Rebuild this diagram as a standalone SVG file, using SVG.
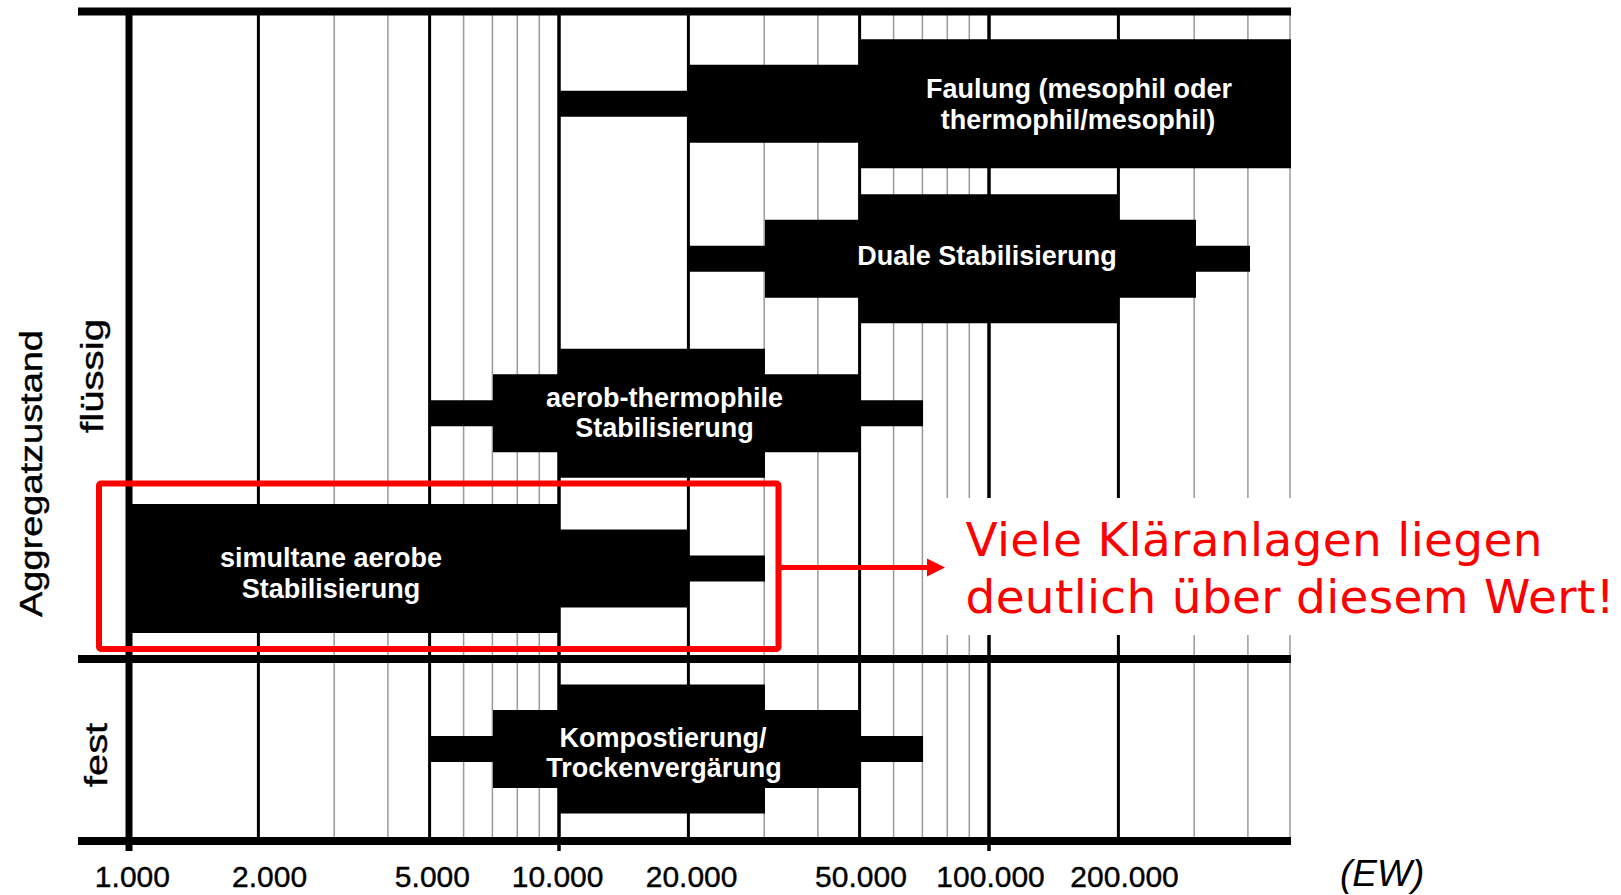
<svg xmlns="http://www.w3.org/2000/svg" width="1621" height="895" viewBox="0 0 1621 895">
<style>
.bk{stroke:#000;stroke-width:3;fill:none}
.bk2{stroke:#000;stroke-width:3.5;fill:none}
.gr{stroke:#9a9a9a;stroke-width:1.5;fill:none}
.bar{fill:#000}
.bl{font-family:"Liberation Sans",Arial,sans-serif;font-weight:bold;font-size:27px;fill:#fff;text-anchor:middle}
.ax{font-family:"Liberation Sans",Arial,sans-serif;font-size:30px;fill:#000;stroke:#000;stroke-width:0.4;text-anchor:middle}
.side{font-family:"Liberation Sans",Arial,sans-serif;font-size:31px;fill:#000;stroke:#000;stroke-width:0.4;text-anchor:middle}
.note{font-family:"DejaVu Sans",Verdana,sans-serif;font-size:47px;fill:#ff0000}
</style>
<rect width="1621" height="895" fill="#fff"/>
<g id="grid">
<line class="gr" x1="334.2" y1="15" x2="334.2" y2="838"/>
<line class="gr" x1="387.9" y1="15" x2="387.9" y2="838"/>
<line class="gr" x1="463.6" y1="15" x2="463.6" y2="838"/>
<line class="gr" x1="492.4" y1="15" x2="492.4" y2="838"/>
<line class="gr" x1="517.3" y1="15" x2="517.3" y2="838"/>
<line class="gr" x1="539.3" y1="15" x2="539.3" y2="838"/>
<line class="gr" x1="764.2" y1="15" x2="764.2" y2="838"/>
<line class="gr" x1="817.9" y1="15" x2="817.9" y2="838"/>
<line class="gr" x1="893.6" y1="15" x2="893.6" y2="838"/>
<line class="gr" x1="922.4" y1="15" x2="922.4" y2="838"/>
<line class="gr" x1="947.3" y1="15" x2="947.3" y2="838"/>
<line class="gr" x1="969.3" y1="15" x2="969.3" y2="838"/>
<line class="gr" x1="1194.2" y1="15" x2="1194.2" y2="838"/>
<line class="gr" x1="1247.9" y1="15" x2="1247.9" y2="838"/>
<line class="gr" x1="1290" y1="15" x2="1290" y2="838"/>
<line class="bk" x1="258.4" y1="15" x2="258.4" y2="838"/>
<line class="bk" x1="429.6" y1="15" x2="429.6" y2="838"/>
<line class="bk2" x1="559" y1="15" x2="559" y2="851"/>
<line class="bk" x1="688.4" y1="15" x2="688.4" y2="838"/>
<line class="bk" x1="859.6" y1="15" x2="859.6" y2="838"/>
<line class="bk2" x1="989" y1="15" x2="989" y2="851"/>
<line class="bk" x1="1118.4" y1="15" x2="1118.4" y2="838"/>
<line stroke="#000" stroke-width="7" x1="129" y1="10" x2="129" y2="851"/>
<rect x="78" y="7.5" width="1213" height="8" fill="#000"/>
<rect x="78" y="655" width="1213" height="8" fill="#000"/>
<rect x="78" y="837" width="1213" height="8" fill="#000"/>
</g>
<g id="faulung">
<path class="bar" d="M559,90.7H688V64.7H860V39.2H1291V168.2H860V142.7H688V116.7H559Z"/>
<text class="bl" x="1079" y="97.5">Faulung (mesophil oder</text>
<text class="bl" x="1078" y="128.5">thermophil/mesophil)</text>
</g>
<g id="duale">
<path class="bar" d="M688,245.7H765V219.7H860V194.2H1119V219.7H1196V245.7H1250V271.7H1196V297.7H1119V323.2H860V297.7H765V271.7H688Z"/>
<text class="bl" x="987" y="265">Duale Stabilisierung</text>
</g>
<g id="aerob">
<path class="bar" d="M430,400.3H493V374.3H559V348.8H765V374.3H860V400.3H923V426.3H860V452.3H765V477.8H559V452.3H493V426.3H430Z"/>
<text class="bl" x="664.5" y="406.7">aerob-thermophile</text>
<text class="bl" x="664.5" y="437.3">Stabilisierung</text>
</g>
<g id="simultan">
<path class="bar" d="M129,504H559V529.5H688V555.5H765V581.5H688V607.5H559V633H129Z"/>
<text class="bl" x="331" y="566.7">simultane aerobe</text>
<text class="bl" x="331" y="598.3">Stabilisierung</text>
</g>
<g id="kompost">
<path class="bar" d="M430,736H493V710H559V684.5H765V710H860V736H923V762H860V788H765V813.5H559V788H493V762H430Z"/>
<text class="bl" x="663" y="746.7">Kompostierung/</text>
<text class="bl" x="664" y="776.7">Trockenvergärung</text>
</g>
<g id="axis-labels">
<text class="ax" x="132.4" y="887">1.000</text>
<text class="ax" x="269.6" y="887">2.000</text>
<text class="ax" x="432.4" y="887">5.000</text>
<text class="ax" x="557.6" y="887">10.000</text>
<text class="ax" x="691.6" y="887">20.000</text>
<text class="ax" x="861" y="887">50.000</text>
<text class="ax" x="990.6" y="887">100.000</text>
<text class="ax" x="1124.6" y="887">200.000</text>
<text x="1340" y="886" font-family="Liberation Sans, Arial, sans-serif" font-style="italic" font-size="37" fill="#000">(EW)</text>
</g>
<g id="side-labels">
<text class="side" transform="translate(42,473.5) rotate(-90)" textLength="287" lengthAdjust="spacingAndGlyphs" font-size="34">Aggregatzustand</text>
<text class="side" transform="translate(103,376) rotate(-90)" textLength="114" lengthAdjust="spacingAndGlyphs">flüssig</text>
<text class="side" transform="translate(106.5,755) rotate(-90)" textLength="64" lengthAdjust="spacingAndGlyphs">fest</text>
</g>
<g id="highlight">
<rect x="99" y="483.5" width="679.5" height="165.5" rx="2" fill="none" stroke="#ff0000" stroke-width="6"/>
</g>
<g id="note">
<rect x="938" y="498" width="683" height="137" fill="#fff"/>
<text class="note" x="965.5" y="556" textLength="577">Viele Kläranlagen liegen</text>
<text class="note" x="965.5" y="613" textLength="649">deutlich über diesem Wert!</text>
</g>
<g id="connectors">
<line x1="781" y1="567.5" x2="930" y2="567.5" stroke="#ff0000" stroke-width="5"/>
<polygon points="927,558.5 945,567.5 927,576.5" fill="#ff0000"/>
</g>
</svg>
